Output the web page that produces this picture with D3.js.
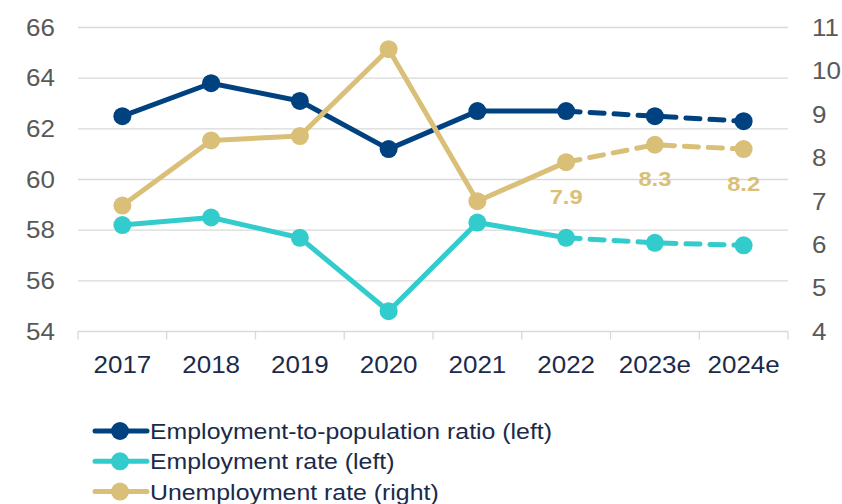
<!DOCTYPE html>
<html>
<head>
<meta charset="utf-8">
<script src="https://cdn.jsdelivr.net/npm/d3@7"></script>
<style>
  body { margin: 0; background: #fff; }
  svg { font-family: "Liberation Sans", Arial, sans-serif; }
</style>
</head>
<body>
<svg id="chart" width="842" height="504"></svg>
<script>
// categories and values
const years = ["2017", "2018", "2019", "2020", "2021", "2022", "2023e", "2024e"];
const empPopRatio = [62.5, 63.8, 63.1, 61.2, 62.7, 62.7, 62.5, 62.3];
const empRate = [58.2, 58.5, 57.7, 54.8, 58.3, 57.7, 57.5, 57.4];
const unempRate = [6.9, 8.4, 8.5, 10.5, 7.0, 7.9, 8.3, 8.2];
const leftTicks = [54, 56, 58, 60, 62, 64, 66];
const rightTicks = [4, 5, 6, 7, 8, 9, 10, 11];
const labelledYears = ["2022", "2023e", "2024e"]; // data labels on unemployment
const forecastFrom = "2022"; // dashed from here on

const series = [
  { name: "Employment-to-population ratio (left)", values: empPopRatio, axis: "left", color: "#00427f" },
  { name: "Employment rate (left)", values: empRate, axis: "left", color: "#33cccc" },
  { name: "Unemployment rate (right)", values: unempRate, axis: "right", color: "#d9bf77" }
];

const svg = d3.select("#chart");
const plotL = 78, plotR = 788, plotT = 27.5, plotB = 331.5;
const stretch = 1.13; // the source text is a little wide

const x = d3.scaleBand().domain(years).range([plotL, plotR]);
const yL = d3.scaleLinear().domain([54, 66]).range([plotB, plotT]);
const yR = d3.scaleLinear().domain([4, 11]).range([plotB, plotT]);

// place text at (px, py), stretched horizontally around its anchor
function place(sel, px, py) {
  sel.attr("transform", (d, i) => `translate(${px(d, i)},${py(d, i)}) scale(${stretch},1)`);
}

// gridlines
svg.append("g")
  .selectAll("line")
  .data(leftTicks.slice(1))
  .join("line")
  .attr("x1", plotL).attr("x2", plotR)
  .attr("y1", d => yL(d)).attr("y2", d => yL(d))
  .attr("stroke", "#d9d9d9").attr("stroke-width", 1.3);

// left axis labels
svg.append("g")
  .selectAll("text")
  .data(leftTicks)
  .join("text")
  .call(place, () => 55, d => yL(d))
  .attr("dy", "0.36em")
  .attr("text-anchor", "end")
  .attr("font-size", 23)
  .attr("fill", "#595959")
  .text(d => d);

// right axis labels
svg.append("g")
  .selectAll("text")
  .data(rightTicks)
  .join("text")
  .call(place, () => 812, d => yR(d))
  .attr("dy", "0.36em")
  .attr("font-size", 23)
  .attr("fill", "#595959")
  .text(d => d);

// bottom axis
const xAxis = svg.append("g").attr("transform", `translate(0,${plotB})`);
xAxis.append("line").attr("x1", plotL).attr("x2", plotR)
  .attr("stroke", "#d9d9d9").attr("stroke-width", 1.3);
xAxis.selectAll(".tk")
  .data(years.concat(["end"]))
  .join("line")
  .attr("class", "tk")
  .attr("x1", (d, i) => i < years.length ? x(d) : plotR)
  .attr("x2", (d, i) => i < years.length ? x(d) : plotR)
  .attr("y1", 0).attr("y2", 8)
  .attr("stroke", "#d9d9d9").attr("stroke-width", 1.3);
xAxis.selectAll("text")
  .data(years)
  .join("text")
  .call(place, d => x(d) + x.bandwidth() / 2, () => 41)
  .attr("text-anchor", "middle")
  .attr("font-size", 23)
  .attr("fill", "#1b2a4a")
  .text(d => d);

// lines and markers
const fIdx = years.indexOf(forecastFrom);
series.forEach(s => {
  const y = s.axis === "left" ? yL : yR;
  const pts = s.values.map((v, i) => [x(years[i]) + x.bandwidth() / 2, y(v)]);
  const line = d3.line();
  const g = svg.append("g");
  g.append("path")
    .attr("d", line(pts.slice(0, fIdx + 1)))
    .attr("fill", "none").attr("stroke", s.color)
    .attr("stroke-width", 5).attr("stroke-linejoin", "round");
  g.append("path")
    .attr("d", line(pts.slice(fIdx)))
    .attr("fill", "none").attr("stroke", s.color)
    .attr("stroke-width", 5).attr("stroke-linecap", "round")
    .attr("stroke-dasharray", "14,10");
  g.selectAll("circle")
    .data(pts)
    .join("circle")
    .attr("cx", d => d[0]).attr("cy", d => d[1])
    .attr("r", 9).attr("fill", s.color);
});

// data labels
svg.append("g")
  .selectAll("text")
  .data(labelledYears)
  .join("text")
  .call(place, d => x(d) + x.bandwidth() / 2, d => yR(unempRate[years.indexOf(d)]) + 41.5)
  .attr("text-anchor", "middle")
  .attr("font-size", 21)
  .attr("font-weight", "bold")
  .attr("fill", "#d9bf77")
  .text(d => unempRate[years.indexOf(d)].toFixed(1));

// legend
const legend = svg.append("g")
  .selectAll("g")
  .data(series)
  .join("g")
  .attr("transform", (d, i) => `translate(0,${431 + i * 30.3})`);
legend.append("line")
  .attr("x1", 95).attr("x2", 147)
  .attr("stroke", d => d.color).attr("stroke-width", 5)
  .attr("stroke-linecap", "round");
legend.append("circle")
  .attr("cx", 120).attr("r", 9).attr("fill", d => d.color);
legend.append("text")
  .call(place, () => 150, () => 0)
  .attr("dy", "0.36em")
  .attr("font-size", 22)
  .attr("fill", "#1b2a4a")
  .text(d => d.name);
</script>
</body>
</html>
